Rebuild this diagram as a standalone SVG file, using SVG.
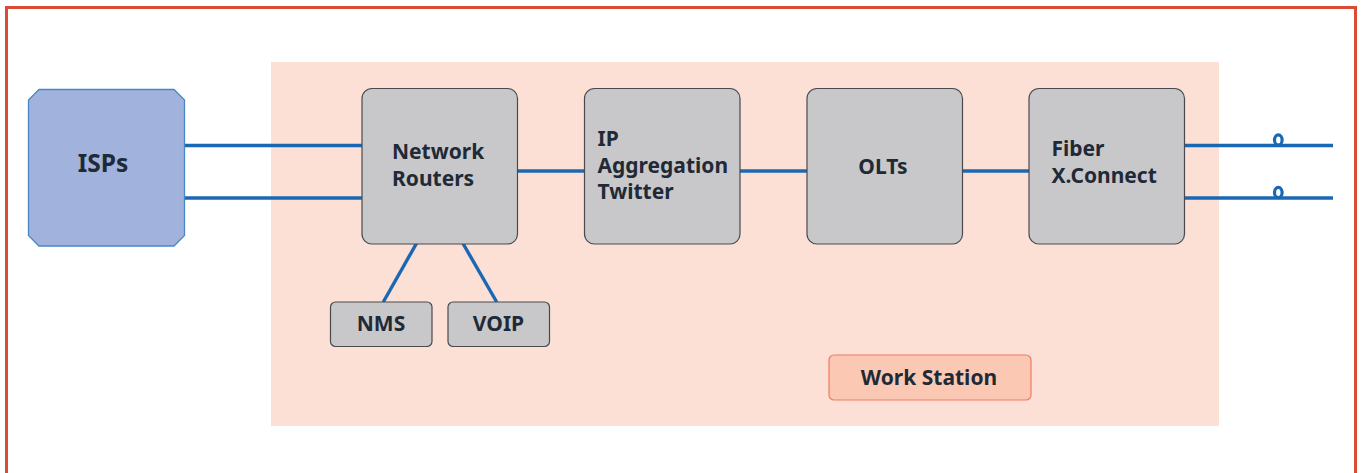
<svg xmlns="http://www.w3.org/2000/svg" width="1361" height="473" viewBox="0 0 1361 473">
  <style>
    .lbl { font-family: "Noto Sans", "Open Sans", "Liberation Sans", sans-serif; font-weight: 700; fill: #1f2a36; font-size: 21px; }
    .box { fill: #c8c8ca; stroke: #4a4a4e; stroke-width: 1.2; }
    .wire { stroke: #1a68b4; stroke-width: 3.4; fill: none; }
  </style>

  <!-- outer frame -->
  <rect x="6.5" y="7.5" width="1349" height="480" fill="#ffffff" stroke="#d94b35" stroke-width="3"/>

  <!-- work station zone -->
  <rect id="zone" x="271" y="62" width="948" height="364" fill="#fce0d5"/>

  <!-- connectors -->
  <g id="connectors" class="wire">
    <line x1="184" y1="145.5" x2="362" y2="145.5"/>
    <line x1="184" y1="198" x2="362" y2="198"/>
    <line x1="517" y1="171" x2="585" y2="171"/>
    <line x1="740" y1="171" x2="807" y2="171"/>
    <line x1="962" y1="171" x2="1029" y2="171"/>
    <line x1="1185" y1="145.5" x2="1333" y2="145.5"/>
    <line x1="1185" y1="198" x2="1333" y2="198"/>
    <ellipse cx="1278.3" cy="140" rx="3.8" ry="5.2" stroke-width="3.2"/>
    <ellipse cx="1278.3" cy="192.5" rx="3.8" ry="5.2" stroke-width="3.2"/>
    <line x1="416.7" y1="243" x2="383.3" y2="302"/>
    <line x1="462.7" y1="243" x2="496.7" y2="302"/>
  </g>

  <!-- ISPs -->
  <g id="isps">
    <polygon points="39,89.5 174,89.5 184.5,100 184.5,235.5 174,246 39,246 28.5,235.5 28.5,100" fill="#a1b3dc" stroke="#4a86c5" stroke-width="1.3"/>
    <text class="lbl" x="103" y="172" style="font-size:24.5px" text-anchor="middle">ISPs</text>
  </g>

  <!-- Network Routers -->
  <g id="routers">
    <rect class="box" x="362" y="88.5" width="155.5" height="155.5" rx="10"/>
    <text class="lbl" x="392" y="159">Network</text>
    <text class="lbl" x="392" y="185.5">Routers</text>
  </g>

  <!-- IP Aggregation -->
  <g id="ipagg">
    <rect class="box" x="584.5" y="88.5" width="155.5" height="155.5" rx="10"/>
    <text class="lbl" x="597.5" y="146">IP</text>
    <text class="lbl" x="597.5" y="172.5">Aggregation</text>
    <text class="lbl" x="597.5" y="199">Twitter</text>
  </g>

  <!-- OLTs -->
  <g id="olts">
    <rect class="box" x="807" y="88.5" width="155.5" height="155.5" rx="10"/>
    <text class="lbl" x="883" y="174" text-anchor="middle">OLTs</text>
  </g>

  <!-- Fiber X.Connect -->
  <g id="fiber">
    <rect class="box" x="1029" y="88.5" width="155.5" height="155.5" rx="10"/>
    <text class="lbl" x="1051.5" y="156">Fiber</text>
    <text class="lbl" x="1051.5" y="183">X.Connect</text>
  </g>

  <!-- NMS -->
  <g id="nms">
    <rect class="box" x="330.5" y="302" width="101.5" height="44.5" rx="5"/>
    <text class="lbl" x="381" y="331" text-anchor="middle">NMS</text>
  </g>

  <!-- VOIP -->
  <g id="voip">
    <rect class="box" x="448" y="302" width="101.5" height="44.5" rx="5"/>
    <text class="lbl" x="498.5" y="331" text-anchor="middle">VOIP</text>
  </g>

  <!-- Work Station tag -->
  <g id="workstation">
    <rect x="829" y="355" width="202" height="45" rx="5" fill="#fbc8b4" stroke="#ef7a62" stroke-width="1.2"/>
    <text class="lbl" x="929" y="385" text-anchor="middle">Work Station</text>
  </g>
</svg>
